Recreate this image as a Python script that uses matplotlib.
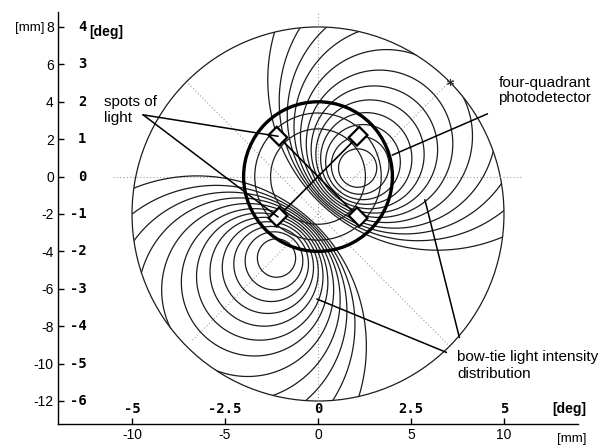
import numpy as np
import matplotlib
matplotlib.use('Agg')
import matplotlib.pyplot as plt
from matplotlib.patches import Circle, Polygon

plt.rcParams['font.family'] = ['Liberation Sans', 'DejaVu Sans']

# axis ticks in mm and the matching angle in degrees
mm_x_ticks = [-10, -5, 0, 5, 10]
deg_x_labels = ['-5', '-2.5', '0', '2.5', '5']
mm_y_ticks = [8, 6, 4, 2, 0, -2, -4, -6, -8, -10, -12]
deg_y_labels = ['4', '3', '2', '1', '0', '-1', '-2', '-3', '-4', '-5', '-6']

# bow-tie intensity pattern
lobe_mid = (-0.05, -1.95)   # between the two lobes [mm]
lobe_dist = 3.08            # peak distance from lobe_mid [mm]
lobe_angle = 47.8           # direction of the lobe axis [deg]
levels = [0.052, 0.062, 0.071, 0.080, 0.090, 0.100,
          0.109, 0.118, 0.127, 0.136, 0.145, 0.154]

# field of view and detector
field_center = (0, -2)
field_radius = 10
detector_radius = 4.0
detector_rings = [3.4, 2.55]
spot_r = 3.05
spot_angles = [45, 135, 225, 315]

fig = plt.figure(figsize=(6.1, 4.45), dpi=100)
ax = fig.add_axes([58 / 610, 21 / 445, 520 / 610, 412 / 445])

# intensity field: two lobes along the lobe axis
xs = np.linspace(-10.5, 10.5, 800)
ys = np.linspace(-12.5, 8.5, 800)
X, Y = np.meshgrid(xs, ys)
ca, sa = np.cos(np.radians(lobe_angle)), np.sin(np.radians(lobe_angle))
u = (X - lobe_mid[0]) * ca + (Y - lobe_mid[1]) * sa
v = -(X - lobe_mid[0]) * sa + (Y - lobe_mid[1]) * ca
F = u / (u ** 2 + v ** 2 + lobe_dist ** 2)

lv = sorted([-l for l in levels]) + levels
cs = ax.contour(X, Y, F, levels=lv, colors='#1c1c1c', linewidths=0.9,
                linestyles='solid')
clip = Circle(field_center, field_radius, transform=ax.transData)
cs.set_clip_path(clip)

ax.add_patch(Circle(field_center, field_radius, fill=False, ec='#1c1c1c', lw=0.9))

# dotted guide lines
dot = dict(color='#a0a0a0', lw=0.8, ls=(0, (1, 2)), zorder=1)
ax.plot([-11, 11], [0, 0], **dot)
ax.plot([0, 0], [-12, 8.75], **dot)
for a, r0, r1 in [(45, 10.0, 9.6), (135, 9.85, 9.9)]:
    c, s = np.cos(np.radians(a)), np.sin(np.radians(a))
    ax.plot([field_center[0] + r0 * c, field_center[0] - r1 * c],
            [field_center[1] + r0 * s, field_center[1] - r1 * s], **dot)
ax.plot(field_center[0] + 10 * np.cos(np.radians(45)),
        field_center[1] + 10 * np.sin(np.radians(45)),
        marker=(6, 2, 0), ms=5, color='#333333', mew=0.8)

# four-quadrant detector
ax.add_patch(Circle((0, 0), detector_radius, fill=False, ec='black', lw=2.4, zorder=4))
for rr in detector_rings:
    ax.add_patch(Circle((0, 0), rr, fill=False, ec='#1c1c1c', lw=0.9, zorder=3))
L, W = 0.8, 0.62
for a in spot_angles:
    er = np.array([np.cos(np.radians(a)), np.sin(np.radians(a))])
    et = np.array([-er[1], er[0]])
    c0 = spot_r * er
    pts = [c0 + L / 2 * er + W / 2 * et, c0 + L / 2 * er - W / 2 * et,
           c0 - L / 2 * er - W / 2 * et, c0 - L / 2 * er + W / 2 * et]
    ax.add_patch(Polygon(pts, closed=True, fc='white', ec='black', lw=1.6, zorder=6))
ri = spot_r - L / 2
for a in [45, 135]:
    c, s = np.cos(np.radians(a)), np.sin(np.radians(a))
    ax.plot([ri * c, -ri * c], [ri * s, -ri * s], color='black', lw=1.2, zorder=5)

# annotations
ann = dict(color='black', lw=1.1, zorder=7)
ax.text(-11.5, 3.55, 'spots of\nlight', fontsize=11, ha='left', va='center',
        linespacing=1.15)
for a in [135, 225]:
    ax.plot([-9.4, spot_r * np.cos(np.radians(a))],
            [3.3, spot_r * np.sin(np.radians(a))], **ann)
ax.text(9.7, 4.6, 'four-quadrant\nphotodetector', fontsize=11, ha='left',
        va='center', linespacing=1.15)
ax.plot([9.1, 4.0], [3.35, 1.15], **ann)
ax.text(7.5, -10.1, 'bow-tie light intensity\ndistribution', fontsize=11,
        ha='left', va='center', linespacing=1.35)
ax.plot([6.9, -0.05], [-9.4, -6.55], **ann)
ax.plot([7.6, 5.75], [-8.6, -1.25], **ann)

# axes
ax.set_xlim(-13.98, 13.98)
ax.set_ylim(-13.23, 8.8)
for sp in ['top', 'right']:
    ax.spines[sp].set_visible(False)
ax.spines['left'].set_linewidth(1.0)
ax.spines['bottom'].set_linewidth(1.0)
ax.set_xticks(mm_x_ticks)
ax.set_xticklabels([str(v) for v in mm_x_ticks])
ax.set_yticks(mm_y_ticks)
ax.set_yticklabels([str(v) for v in mm_y_ticks])
ax.tick_params(direction='in', length=4, width=1, labelsize=10, pad=3)

mono = dict(family='DejaVu Sans Mono', fontsize=10, fontweight='bold')
for v, lab in zip(mm_y_ticks, deg_y_labels):
    ax.text(-12.45, v, lab, ha='right', va='center', **mono)
for v, lab in zip(mm_x_ticks, deg_x_labels):
    ax.text(v, -12.45, lab, ha='center', va='center', **mono)

ax.text(-15.5, 7.95, '[mm]', fontsize=9.5, ha='center', va='center', clip_on=False)
ax.text(-12.3, 7.75, '[deg]', fontsize=10, fontweight='bold', ha='left', va='center')
ax.text(12.6, -12.45, '[deg]', fontsize=10, fontweight='bold', ha='left', va='center')
ax.text(13.65, -14.05, '[mm]', fontsize=9.5, ha='center', va='center', clip_on=False)

fig.savefig('out.png', dpi=100)
